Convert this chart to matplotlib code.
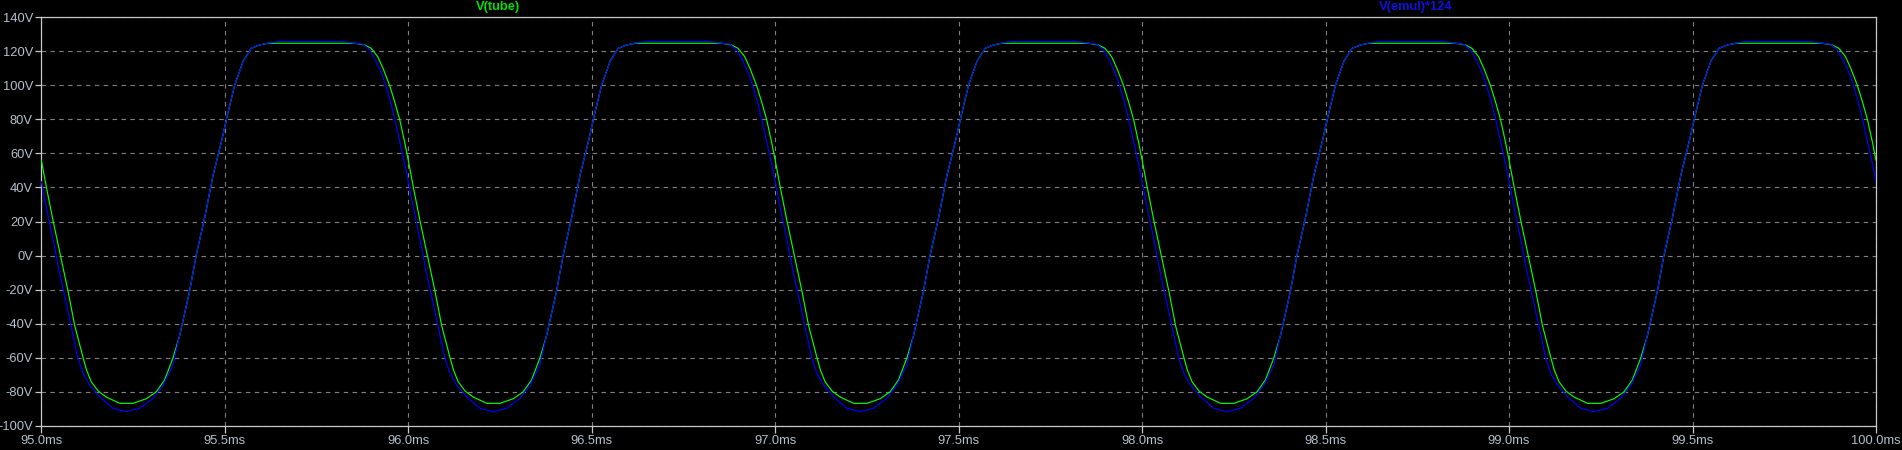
import numpy as np
import matplotlib
matplotlib.use("Agg")
import matplotlib.pyplot as plt

# one measured period (ms, relative to cycle start) of each trace
tube_t = [0.000, 0.014, 0.032, 0.052, 0.073, 0.091, 0.114, 0.123, 0.136, 0.155,
          0.177, 0.214, 0.250, 0.286, 0.313, 0.336, 0.359, 0.377, 0.404, 0.422,
          0.445, 0.468, 0.491, 0.509, 0.527, 0.550, 0.572, 0.595, 0.618, 0.854,
          0.881, 0.899, 0.917, 0.931, 0.949, 0.963, 0.977, 0.990, 1.000]
tube_v = [56.0, 40.0, 20.5, 0.3, -21.0, -41.0, -60.0, -67.0, -74.0, -79.5,
          -83.0, -86.7, -86.7, -84.0, -80.0, -73.0, -60.0, -47.0, -21.0, 0.0,
          22.0, 47.0, 67.0, 84.0, 100.0, 114.0, 121.6, 123.6, 124.6, 124.6,
          123.6, 121.6, 116.7, 110.0, 100.0, 90.3, 79.6, 66.8, 56.0]

emul_t = [0.000, 0.008, 0.022, 0.035, 0.049, 0.065, 0.100, 0.114, 0.132, 0.159,
          0.195, 0.232, 0.268, 0.304, 0.332, 0.359, 0.377, 0.404, 0.422, 0.445,
          0.468, 0.491, 0.509, 0.527, 0.550, 0.572, 0.595, 0.618, 0.645, 0.822,
          0.854, 0.877, 0.895, 0.913, 0.931, 0.949, 0.963, 0.977, 0.995, 1.000]
emul_v = [43.4, 34.5, 19.9, 6.2, -9.5, -25.1, -60.3, -69.1, -76.0, -82.8,
          -89.6, -91.6, -89.6, -83.8, -76.0, -64.2, -46.6, -21.2, 0.3, 21.9,
          47.3, 66.8, 84.4, 100.1, 113.8, 121.6, 123.6, 124.7, 125.6, 125.6,
          124.6, 124.0, 120.6, 113.8, 105.0, 92.3, 80.5, 66.8, 49.2, 43.4]

cycle_starts = [95.0, 96.0, 97.0, 98.0, 99.0]

y_ticks = [140, 120, 100, 80, 60, 40, 20, 0, -20, -40, -60, -80, -100]
y_labels = ["140V", "120V", "100V", "80V", "60V", "40V", "20V", "0V",
            "-20V", "-40V", "-60V", "-80V", "-100V"]
x_ticks = [95.0, 95.5, 96.0, 96.5, 97.0, 97.5, 98.0, 98.5, 99.0, 99.5, 100.0]
x_labels = ["95.0ms", "95.5ms", "96.0ms", "96.5ms", "97.0ms", "97.5ms",
            "98.0ms", "98.5ms", "99.0ms", "99.5ms", "100.0ms"]

series_names = ["V(tube)", "V(emul)*124"]

GREEN = "#00ff00"
BLUE = "#0000ff"
FRAME = "#c8c8c8"
LABEL = "#b4c0cc"

plt.rcParams["font.family"] = ["Liberation Sans", "DejaVu Sans"]

fig = plt.figure(figsize=(19.02, 4.5), dpi=100, facecolor="black")
ax = fig.add_axes([41.3 / 1902, 24 / 450, (1876 - 41.3) / 1902, 409 / 450])
ax.set_facecolor("black")

tube_x = np.concatenate([np.asarray(tube_t) + s for s in cycle_starts])
tube_y = np.concatenate([tube_v for s in cycle_starts])
emul_x = np.concatenate([np.asarray(emul_t) + s for s in cycle_starts])
emul_y = np.concatenate([emul_v for s in cycle_starts])

ax.plot(tube_x, tube_y, color=GREEN, lw=0.85, zorder=3)
ax.plot(emul_x, emul_y, color=BLUE, lw=0.85, zorder=4)

ax.set_xlim(95.0, 100.0)
ax.set_ylim(-100, 140)
ax.set_yticks(y_ticks)
ax.set_yticklabels(y_labels)
ax.set_xticks(x_ticks)
ax.set_xticklabels(x_labels)

ax.grid(True, color="#808080", lw=0.8, linestyle=(0, (4, 4)))
ax.set_axisbelow(True)

for sp in ax.spines.values():
    sp.set_color(FRAME)
    sp.set_linewidth(0.9)

ax.tick_params(axis="both", colors=FRAME, labelcolor=LABEL, labelsize=9.3,
               width=0.9)
ax.tick_params(axis="y", length=4.5, pad=1.5)
ax.tick_params(axis="x", length=5, pad=1.5)

ax.text(0.249, 1.0244, series_names[0], transform=ax.transAxes, color="#00e000",
        fontsize=9.3, fontweight="bold", ha="center", va="center")
ax.text(0.749, 1.0244, series_names[1], transform=ax.transAxes, color="#1010e0",
        fontsize=9.3, fontweight="bold", ha="center", va="center")

fig.savefig("out.png", dpi=100, facecolor="black")
